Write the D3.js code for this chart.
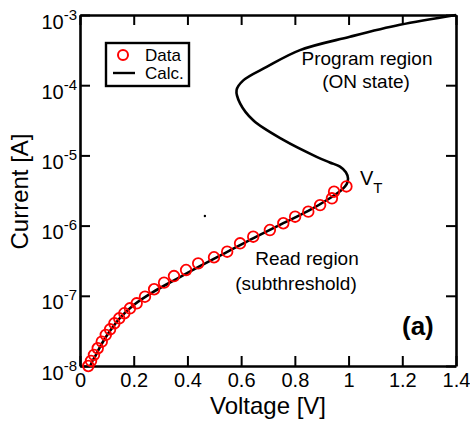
<!DOCTYPE html>
<html>
<head>
<meta charset="utf-8">
<script src="https://cdn.jsdelivr.net/npm/d3@7"></script>
<style>
body { margin: 0; background: #fff; }
text { font-family: "Liberation Sans", Arial, Helvetica, sans-serif; fill: #000; }
</style>
</head>
<body>
<div id="chart"></div>
<script>
// measured points (voltage in V, current in A)
var dataV = [0.031, 0.041, 0.052, 0.066, 0.081, 0.096, 0.112, 0.128, 0.146, 0.165,
             0.186, 0.211, 0.242, 0.276, 0.313, 0.350, 0.395, 0.440, 0.499, 0.548,
             0.596, 0.645, 0.707, 0.757, 0.801, 0.850, 0.894, 0.938, 0.946, 0.992];
var dataI = [1.00e-8, 1.18e-8, 1.44e-8, 1.79e-8, 2.22e-8, 2.77e-8, 3.33e-8, 4.06e-8, 4.78e-8, 5.64e-8,
             6.64e-8, 7.82e-8, 9.70e-8, 1.24e-7, 1.54e-7, 1.91e-7, 2.33e-7, 2.90e-7, 3.54e-7, 4.25e-7,
             5.60e-7, 6.95e-7, 8.65e-7, 1.08e-6, 1.34e-6, 1.58e-6, 1.96e-6, 2.45e-6, 3.04e-6, 3.61e-6];

// calculated S-shaped curve, in drawing order
var calcV = [0.038, 0.046, 0.058, 0.080, 0.110, 0.150, 0.200, 0.270, 0.350, 0.450,
             0.550, 0.650, 0.750, 0.850, 0.930, 0.975, 0.993, 0.998, 0.990, 0.968,
             0.930, 0.881, 0.757, 0.645, 0.596, 0.583, 0.608, 0.695, 0.819, 1.005,
             1.191, 1.400];
var calcI = [1.00e-8, 1.17e-8, 1.41e-8, 2.04e-8, 3.09e-8, 4.90e-8, 7.41e-8, 1.12e-7, 1.66e-7, 2.69e-7,
             4.27e-7, 6.76e-7, 1.05e-6, 1.62e-6, 2.45e-6, 3.24e-6, 3.89e-6, 4.68e-6, 5.75e-6, 6.92e-6,
             7.94e-6, 9.55e-6, 1.66e-5, 3.16e-5, 5.50e-5, 8.51e-5, 1.17e-4, 1.82e-4, 3.16e-4, 4.90e-4,
             7.24e-4, 1.00e-3];

// stray speck in the original figure
var speckV = [0.465];
var speckI = [1.37e-6];

var xTicks = [0, 0.2, 0.4, 0.6, 0.8, 1, 1.2, 1.4];
var xTickLabels = ["0", "0.2", "0.4", "0.6", "0.8", "1", "1.2", "1.4"];
var yTicks = [1e-8, 1e-7, 1e-6, 1e-5, 1e-4, 1e-3];
var yTickExps = ["-8", "-7", "-6", "-5", "-4", "-3"];

const w = 470;
const h = 422;
const pL = 80, pR = 456, pT = 15, pB = 366;

const xScale = d3.scaleLinear().domain([0, 1.4]).range([pL, pR]);
const yScale = d3.scaleLog().domain([1e-8, 1e-3]).range([pB, pT]);

const svg = d3.select("#chart")
  .append("svg")
  .attr("width", w)
  .attr("height", h);

// axes with inward ticks
function styleAxis(g) {
  g.attr("font-family", null).attr("font-size", null);
  g.select(".domain").attr("stroke", "#000").attr("stroke-width", 2.6);
  g.selectAll(".tick line").attr("stroke", "#000").attr("stroke-width", 2);
}

const xAxis = d3.axisBottom(xScale).tickValues(xTicks)
  .tickFormat((d, i) => xTickLabels[i]).tickSize(-10).tickSizeOuter(0).tickPadding(7);
svg.append("g").attr("transform", "translate(0," + pB + ")").call(xAxis).call(styleAxis)
  .selectAll("text").style("font-size", "20px");

svg.append("g").attr("transform", "translate(0," + pT + ")")
  .call(d3.axisTop(xScale).tickValues(xTicks).tickFormat("").tickSize(-10).tickSizeOuter(0))
  .call(styleAxis);

svg.append("g").attr("transform", "translate(" + pR + ",0)")
  .call(d3.axisRight(yScale).tickValues(yTicks).tickFormat("").tickSize(-10).tickSizeOuter(0))
  .call(styleAxis);

const yAx = svg.append("g").attr("transform", "translate(" + pL + ",0)")
  .call(d3.axisLeft(yScale).tickValues(yTicks).tickFormat("").tickSize(-10).tickSizeOuter(0))
  .call(styleAxis);
yAx.selectAll(".tick text").remove();
yAx.selectAll(".tick").each(function(d, i) {
  var t = d3.select(this).append("text")
    .attr("x", -3).attr("y", 13)
    .attr("text-anchor", "end");
  t.append("tspan").style("font-size", "20px").text("10");
  t.append("tspan").style("font-size", "15px").attr("dy", -9).text(yTickExps[i]);
});

// axis titles
svg.append("text")
  .attr("x", (pL + pR) / 2).attr("y", 414)
  .attr("text-anchor", "middle")
  .style("font-size", "24px")
  .text("Voltage [V]");

svg.append("text")
  .attr("transform", "translate(28," + ((pT + pB) / 2 + 1) + ") rotate(-90)")
  .attr("text-anchor", "middle")
  .style("font-size", "24px")
  .text("Current [A]");

// calculated curve
const calc = calcV.map((v, i) => [v, calcI[i]]);
const line = d3.line()
  .x(d => xScale(d[0]))
  .y(d => yScale(d[1]))
  .curve(d3.curveCatmullRom.alpha(0.5));

svg.append("path")
  .datum(calc)
  .attr("d", line)
  .attr("fill", "none")
  .attr("stroke", "#000")
  .attr("stroke-width", 2.6);

// measured data
const pts = dataV.map((v, i) => [v, dataI[i]]);
svg.selectAll("circle.data")
  .data(pts)
  .enter()
  .append("circle")
  .attr("class", "data")
  .attr("cx", d => xScale(d[0]))
  .attr("cy", d => yScale(d[1]))
  .attr("r", 5.3)
  .attr("fill", "none")
  .attr("stroke", "#ff0000")
  .attr("stroke-width", 1.8);

svg.selectAll("circle.speck")
  .data(speckV.map((v, i) => [v, speckI[i]]))
  .enter()
  .append("circle")
  .attr("class", "speck")
  .attr("cx", d => xScale(d[0]))
  .attr("cy", d => yScale(d[1]))
  .attr("r", 1.2)
  .attr("fill", "#000");

// legend
const lg = svg.append("g");
lg.append("rect")
  .attr("x", 106).attr("y", 43).attr("width", 83).attr("height", 43)
  .attr("fill", "#fff").attr("stroke", "#000").attr("stroke-width", 2.4);
lg.append("circle")
  .attr("cx", 123).attr("cy", 55).attr("r", 5)
  .attr("fill", "none").attr("stroke", "#ff0000").attr("stroke-width", 2);
lg.append("line")
  .attr("x1", 113).attr("x2", 135).attr("y1", 73).attr("y2", 73)
  .attr("stroke", "#000").attr("stroke-width", 2.4);
lg.append("text").attr("x", 145).attr("y", 61).style("font-size", "17px").text("Data");
lg.append("text").attr("x", 145).attr("y", 79).style("font-size", "17px").text("Calc.");

// annotations
svg.append("text").attr("x", 367).attr("y", 65).attr("text-anchor", "middle")
  .style("font-size", "19px").text("Program region");
svg.append("text").attr("x", 366).attr("y", 88).attr("text-anchor", "middle")
  .style("font-size", "19px").text("(ON state)");
svg.append("text").attr("x", 307).attr("y", 265).attr("text-anchor", "middle")
  .style("font-size", "19px").text("Read region");
svg.append("text").attr("x", 296).attr("y", 290).attr("text-anchor", "middle")
  .style("font-size", "19px").text("(subthreshold)");

const vt = svg.append("text").attr("x", 360).attr("y", 185).style("font-size", "20px");
vt.append("tspan").text("V");
vt.append("tspan").attr("dy", 8).style("font-size", "15px").text("T");

svg.append("text").attr("x", 402).attr("y", 335)
  .style("font-size", "26px").style("font-weight", "bold").text("(a)");
</script>
</body>
</html>
